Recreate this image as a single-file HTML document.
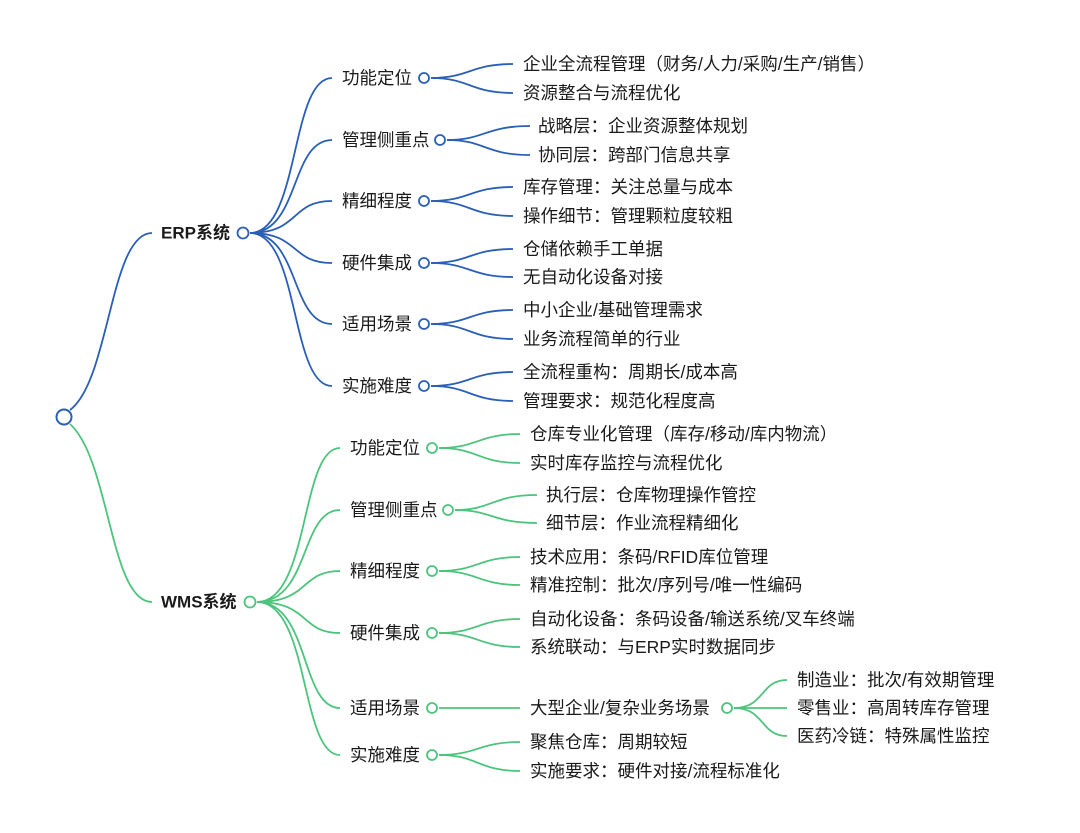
<!DOCTYPE html>
<html><head><meta charset="utf-8"><style>
body{margin:0;background:#fff}
svg text{font-family:"Liberation Sans","Noto Sans CJK SC",sans-serif;font-size:17.5px;fill:#1a1a1a;dominant-baseline:central}
.b{stroke:#2a5fb8;fill:none;stroke-width:1.8}
.g{stroke:#4cc47c;fill:none;stroke-width:1.8}
</style></head><body>
<svg width="1080" height="828" xmlns="http://www.w3.org/2000/svg">
<rect width="1080" height="828" fill="#fff"/>
<path class="b" d="M70 410 C110 380,110 233,152 233"/>
<path class="g" d="M70 424 C110 460,110 602,152 602"/>
<circle cx="64" cy="417" r="7.5" fill="#fff" stroke="#2a5fb8" stroke-width="2"/>
<text x="161" y="233" style="font-weight:bold;font-size:17px">ERP系统</text>
<text x="161" y="602" style="font-weight:bold;font-size:17px">WMS系统</text>
<g class="b">
<path d="M250 233 C300 233,290 78,332 78"/>
<path d="M250 233 C300 233,290 140,332 140"/>
<path d="M250 233 C300 233,290 201,332 201"/>
<path d="M250 233 C300 233,290 263,332 263"/>
<path d="M250 233 C300 233,290 324,332 324"/>
<path d="M250 233 C300 233,290 386,332 386"/>
<path d="M431 78 C470 78,470 64,513 64"/><path d="M431 78 C470 78,470 93,513 93"/>
<path d="M447 140 C485 140,485 126,530 126"/><path d="M447 140 C485 140,485 155,530 155"/>
<path d="M431 201 C470 201,470 187,513 187"/><path d="M431 201 C470 201,470 216,513 216"/>
<path d="M431 263 C470 263,470 249,513 249"/><path d="M431 263 C470 263,470 277,513 277"/>
<path d="M431 324 C470 324,470 310,513 310"/><path d="M431 324 C470 324,470 339,513 339"/>
<path d="M431 386 C470 386,470 372,513 372"/><path d="M431 386 C470 386,470 401,513 401"/>
</g>
<g fill="#fff" stroke="#2a5fb8" stroke-width="1.8">
<circle cx="243" cy="233" r="5.5"/>
<circle cx="424" cy="78" r="5"/><circle cx="440" cy="140" r="5"/><circle cx="424" cy="201" r="5"/>
<circle cx="424" cy="263" r="5"/><circle cx="424" cy="324" r="5"/><circle cx="424" cy="386" r="5"/>
</g>
<text x="342" y="78">功能定位</text><text x="342" y="140">管理侧重点</text><text x="342" y="201">精细程度</text>
<text x="342" y="263">硬件集成</text><text x="342" y="324">适用场景</text><text x="342" y="386">实施难度</text>
<text x="523" y="64">企业全流程管理（财务/人力/采购/生产/销售）</text><text x="523" y="93">资源整合与流程优化</text>
<text x="538" y="126">战略层：企业资源整体规划</text><text x="538" y="155">协同层：跨部门信息共享</text>
<text x="523" y="187">库存管理：关注总量与成本</text><text x="523" y="216">操作细节：管理颗粒度较粗</text>
<text x="523" y="249">仓储依赖手工单据</text><text x="523" y="277">无自动化设备对接</text>
<text x="523" y="310">中小企业/基础管理需求</text><text x="523" y="339">业务流程简单的行业</text>
<text x="523" y="372">全流程重构：周期长/成本高</text><text x="523" y="401">管理要求：规范化程度高</text>
<g class="g">
<path d="M257 602 C310 602,300 448,340 448"/>
<path d="M257 602 C310 602,300 510,340 510"/>
<path d="M257 602 C310 602,300 571,340 571"/>
<path d="M257 602 C310 602,300 633,340 633"/>
<path d="M257 602 C310 602,300 708,340 708"/>
<path d="M257 602 C310 602,300 755,340 755"/>
<path d="M439 448 C478 448,478 434,520 434"/><path d="M439 448 C478 448,478 463,520 463"/>
<path d="M455 510 C492 510,492 495,537 495"/><path d="M455 510 C492 510,492 523,537 523"/>
<path d="M439 571 C478 571,478 557,520 557"/><path d="M439 571 C478 571,478 585,520 585"/>
<path d="M439 633 C478 633,478 619,520 619"/><path d="M439 633 C478 633,478 647,520 647"/>
<path d="M439 708 L520 708"/>
<path d="M439 755 C478 755,478 742,520 742"/><path d="M439 755 C478 755,478 771,520 771"/>
<path d="M734 708 C765 708,760 680,787 680"/><path d="M734 708 L787 708"/><path d="M734 708 C765 708,760 736,787 736"/>
</g>
<g fill="#fff" stroke="#4cc47c" stroke-width="1.8">
<circle cx="250" cy="602" r="5.5"/>
<circle cx="432" cy="448" r="5"/><circle cx="448" cy="510" r="5"/><circle cx="432" cy="571" r="5"/>
<circle cx="432" cy="633" r="5"/><circle cx="432" cy="708" r="5"/><circle cx="432" cy="755" r="5"/>
<circle cx="727" cy="708" r="5"/>
</g>
<text x="350" y="448">功能定位</text><text x="350" y="510">管理侧重点</text><text x="350" y="571">精细程度</text>
<text x="350" y="633">硬件集成</text><text x="350" y="708">适用场景</text><text x="350" y="755">实施难度</text>
<text x="530" y="434">仓库专业化管理（库存/移动/库内物流）</text><text x="530" y="463">实时库存监控与流程优化</text>
<text x="546" y="495">执行层：仓库物理操作管控</text><text x="546" y="523">细节层：作业流程精细化</text>
<text x="530" y="557">技术应用：条码/RFID库位管理</text><text x="530" y="585">精准控制：批次/序列号/唯一性编码</text>
<text x="530" y="619">自动化设备：条码设备/输送系统/叉车终端</text><text x="530" y="647">系统联动：与ERP实时数据同步</text>
<text x="530" y="708">大型企业/复杂业务场景</text>
<text x="530" y="742">聚焦仓库：周期较短</text><text x="530" y="771">实施要求：硬件对接/流程标准化</text>
<text x="797" y="680">制造业：批次/有效期管理</text><text x="797" y="708">零售业：高周转库存管理</text><text x="797" y="736">医药冷链：特殊属性监控</text>
</svg>
</body></html>
